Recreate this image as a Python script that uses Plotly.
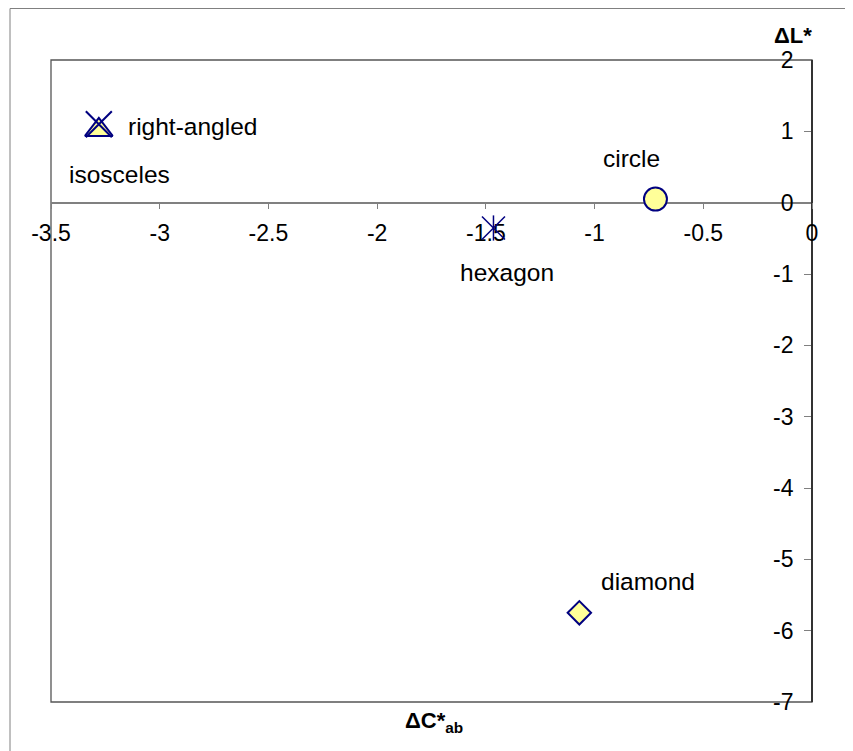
import plotly.graph_objects as go

# ---- data ----
x_tick_vals = [-3.5, -3, -2.5, -2, -1.5, -1, -0.5, 0]
x_tick_text = ["-3.5", "-3", "-2.5", "-2", "-1.5", "-1", "-0.5", "0"]
y_tick_vals = [2, 1, 0, -1, -2, -3, -4, -5, -6, -7]
y_tick_text = ["2", "1", "0", "-1", "-2", "-3", "-4", "-5", "-6", "-7"]

shape_names = ["isosceles", "right-angled", "circle", "hexagon", "diamond"]
delta_C = [-3.28, -3.28, -0.72, -1.465, -1.07]
delta_L = [1.02, 1.10, 0.05, -0.355, -5.75]

x_title = "<b>ΔC*<sub>ab</sub></b>"
y_title = "<b>ΔL*</b>"

# ---- styling ----
W, H = 853, 751
OFF = 8  # page body margin
ML, MT = 51 - OFF, 60 - OFF
PW, PH = 761, 642
MR, MB = W - ML - PW, H - MT - PH
FONT = "Arial, 'Liberation Sans', sans-serif"
NAVY = "#000080"
YELLOW = "#FFFF99"


def px_x(p):  # screen pixel -> paper x
    return (p - OFF - ML) / PW


def px_y(p):  # screen pixel -> paper y
    return (MT + PH - (p - OFF)) / PH


marker_styles = {
    "isosceles": [dict(symbol="triangle-up", size=24, color=YELLOW, line=dict(color=NAVY, width=2))],
    "right-angled": [dict(symbol="x-thin", size=26, color=NAVY, line=dict(color=NAVY, width=2))],
    "circle": [dict(symbol="circle", size=23, color=YELLOW, line=dict(color=NAVY, width=2))],
    "hexagon": [dict(symbol="x-thin", size=23, color=NAVY, line=dict(color=NAVY, width=1.5)),
                dict(symbol="line-ns", size=18, color=NAVY, line=dict(color=NAVY, width=1.5))],
    "diamond": [dict(symbol="diamond", size=18, color=YELLOW, line=dict(color=NAVY, width=2))],
}

label_offsets = {
    "isosceles": dict(xanchor="left", xshift=-32, yshift=-45),
    "right-angled": dict(xanchor="left", xshift=27, yshift=-2.5),
    "circle": dict(xanchor="center", xshift=-24, yshift=41),
    "hexagon": dict(xanchor="center", xshift=14, yshift=-45),
    "diamond": dict(xanchor="left", xshift=20, yshift=31),
}

fig = go.Figure()
annotations = []
for name, cx, ly in zip(shape_names, delta_C, delta_L):
    for m in marker_styles[name]:
        fig.add_trace(go.Scatter(x=[cx], y=[ly], mode="markers", marker=m,
                                 showlegend=False, hoverinfo="skip", cliponaxis=False))
    off = label_offsets[name]
    annotations.append(dict(x=cx, y=ly, xref="x", yref="y", text=name, showarrow=False,
                            xanchor=off["xanchor"], yanchor="middle",
                            xshift=off["xshift"], yshift=off["yshift"],
                            font=dict(family=FONT, size=24.5, color="black")))

annotations.append(dict(x=px_x(793), y=px_y(36), xref="paper", yref="paper", text=y_title,
                        showarrow=False, xanchor="center", yanchor="middle",
                        font=dict(family=FONT, size=22, color="black")))
annotations.append(dict(x=px_x(434), y=px_y(722), xref="paper", yref="paper", text=x_title,
                        showarrow=False, xanchor="center", yanchor="middle",
                        font=dict(family=FONT, size=22, color="black")))

shapes = [
    # outer chart border
    dict(type="rect", xref="paper", yref="paper", x0=px_x(10), y0=px_y(770), x1=px_x(870), y1=px_y(8.5),
         line=dict(color="#808080", width=1), fillcolor="rgba(0,0,0,0)", layer="below"),
    # plot area border
    dict(type="rect", xref="paper", yref="paper", x0=0, y0=0, x1=1, y1=1,
         line=dict(color="#555555", width=1.3), fillcolor="rgba(0,0,0,0)", layer="below"),
]

fig.update_layout(
    template="none",
    width=W, height=H,
    margin=dict(l=ML, r=MR, t=MT, b=MB, autoexpand=False),
    paper_bgcolor="white", plot_bgcolor="white",
    showlegend=False,
    font=dict(family=FONT, size=23, color="black"),
    annotations=annotations,
    shapes=shapes,
    xaxis=dict(range=[-3.5, 0], tickvals=x_tick_vals, ticktext=x_tick_text,
               showgrid=False, zeroline=False, showline=True, linecolor="#808080", linewidth=1.5,
               ticks="outside", ticklen=6, tickcolor="#808080", tickwidth=1,
               anchor="free", position=7 / 9, side="bottom", automargin=False,
               layer="below traces", ticklabelstandoff=4,
               tickfont=dict(family=FONT, size=23, color="black")),
    yaxis=dict(range=[-7, 2], tickvals=y_tick_vals, ticktext=y_tick_text,
               showgrid=False, zeroline=False, showline=True, linecolor="#333333", linewidth=1.8,
               ticks="outside", ticklen=7, tickcolor="#808080", tickwidth=1,
               anchor="free", position=1.0, side="left", automargin=False,
               layer="below traces", ticklabelstandoff=6,
               tickfont=dict(family=FONT, size=23, color="black")),
)

fig.write_html("out.html")
